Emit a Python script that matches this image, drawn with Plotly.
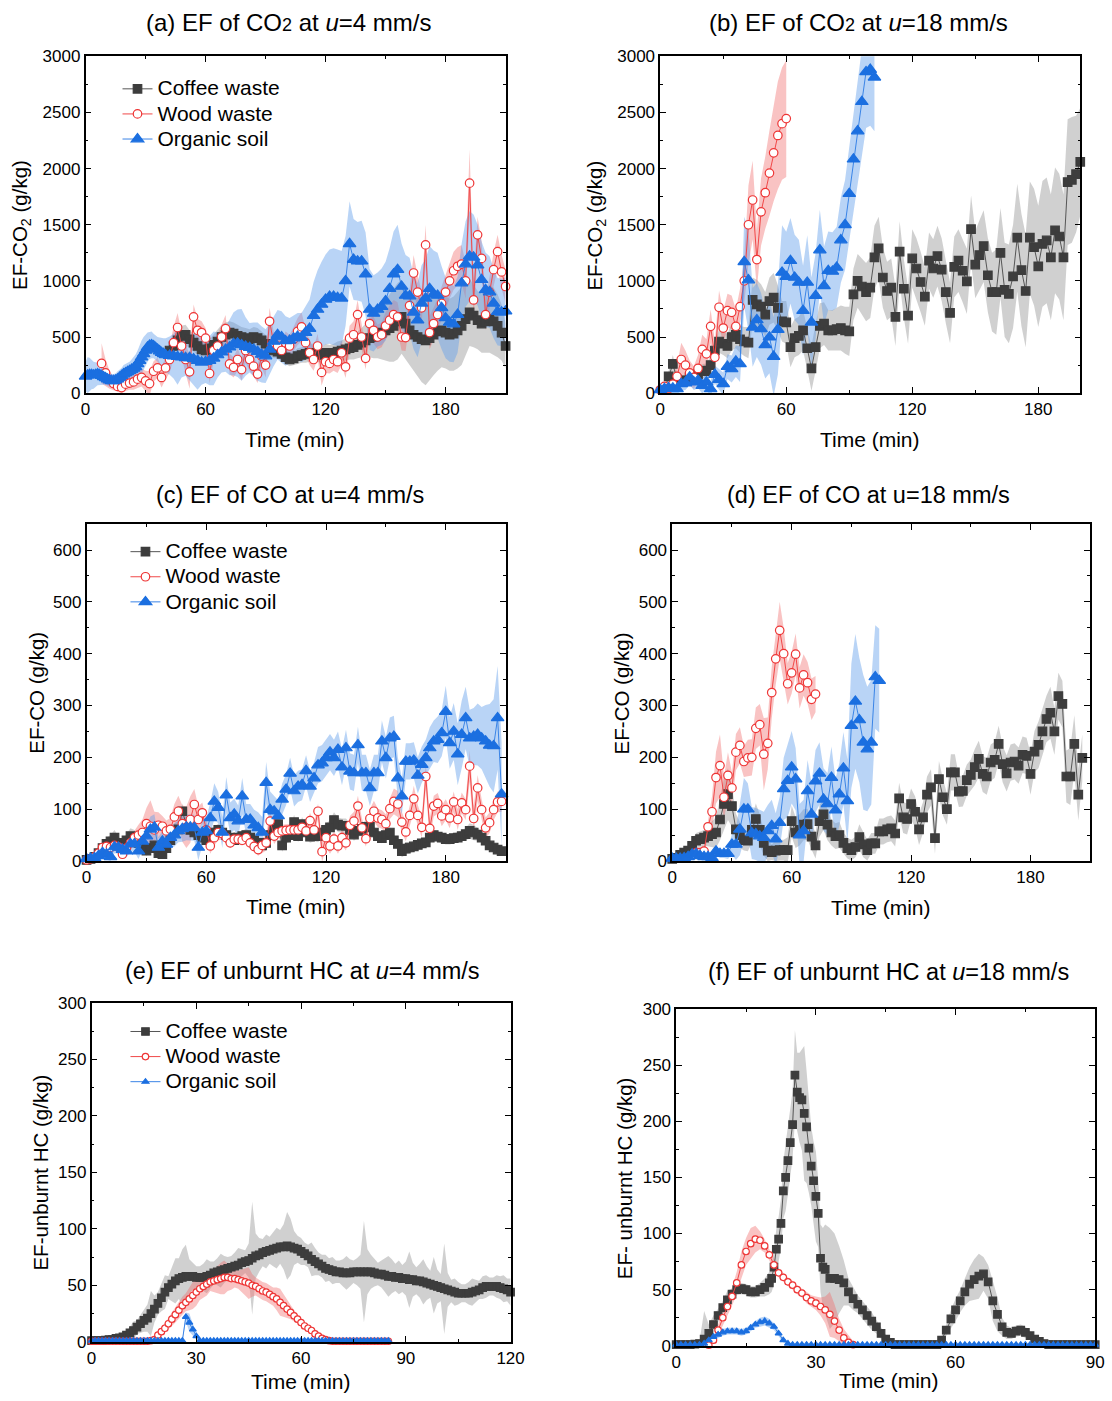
import plotly.graph_objects as go

W, H = 1112, 1401
FONT = "Arial, 'Liberation Sans', sans-serif"
# measured mapping between figure pixels and the captured picture
SX, OX = 0.9852, 4.3
SY, OY = 0.9868, 7.8

# ====================== DATA ======================
# ---- (a) EF-CO2, u = 4 mm/s ----
a_coffee_t = list(range(42, 211, 2))
a_coffee_v = [380, 420, 470, 510, 520, 480, 450, 420, 390, 380,
              400, 430, 460, 500, 520, 540, 530, 510, 500, 490,
              480, 500, 490, 470, 440, 400, 380, 370, 350, 320,
              300, 310, 330, 340, 350, 360, 360, 350, 340, 360,
              350, 360, 370, 380, 390, 400, 410, 430, 450, 470,
              490, 500, 520, 540, 560, 580, 600, 640, 680, 620,
              560, 520, 500, 480, 470, 490, 520, 550, 560, 540,
              520, 530, 560, 600, 660, 720, 690, 650, 620, 640,
              660, 640, 600, 540, 420]
a_coffee_sd = [60, 70, 80, 90, 90, 80, 80, 80, 70, 70,
               80, 90, 100, 110, 110, 100, 100, 100, 90, 90,
               90, 90, 90, 80, 80, 70, 70, 60, 60, 60,
               60, 60, 70, 70, 80, 80, 80, 70, 70, 80,
               80, 80, 90, 90, 100, 100, 110, 120, 130, 150,
               170, 190, 210, 240, 270, 300, 320, 340, 330, 320,
               320, 330, 350, 380, 400, 380, 360, 350, 330, 320,
               320, 330, 340, 350, 330, 300, 280, 260, 260, 280,
               300, 300, 280, 250, 200]

a_wood_t = list(range(8, 211, 2))
a_wood_v = [265, 180, 120, 85, 60, 50, 80, 90, 100, 125,
            140, 110, 85, 195, 225, 140, 225, 300, 450, 585,
            420, 300, 190, 680, 560, 540, 490, 175, 380, 420,
            500, 575, 260, 230, 300, 210, 380, 300, 240, 170,
            330, 250, 640, 450, 420, 380, 450, 420, 480, 550,
            590, 450, 360, 300, 420, 185, 280, 265, 300, 280,
            360, 235, 490, 520, 700, 500, 310, 620, 560, 500,
            520, 600, 650, 700, 680, 500, 495, 780, 1070, 900,
            760, 1320, 540, 620, 700, 800, 900, 1000, 1090, 1130,
            1150, 1000, 1870, 830, 1410, 1200, 700, 900, 1100, 1260,
            1080, 950]
a_wood_sd = [180, 120, 80, 60, 50, 50, 60, 60, 70, 80,
             80, 90, 110, 90, 90, 90, 100, 120, 140, 130,
             120, 130, 150, 110, 100, 100, 90, 90, 100, 100,
             100, 120, 90, 90, 100, 100, 110, 100, 90, 80,
             100, 110, 120, 100, 90, 90, 100, 100, 110, 120,
             130, 120, 110, 100, 110, 120, 100, 90, 100, 100,
             110, 100, 110, 120, 130, 110, 100, 130, 120, 110,
             110, 120, 130, 130, 130, 120, 120, 140, 160, 150,
             150, 180, 150, 140, 140, 150, 160, 160, 170, 170,
             170, 160, 300, 180, 160, 150, 140, 140, 150, 150,
             150, 150]

a_soil_t = list(range(0, 41)) + list(range(42, 211, 2))
a_soil_v = [150, 160, 165, 165, 160, 165, 170, 165, 155, 145,
            135, 125, 115, 110, 110, 115, 125, 140, 155, 170,
            180, 190, 200, 210, 220, 235, 260, 290, 320, 350,
            380, 410, 425, 430, 420, 405, 390, 375, 360, 350,
            340,
            335, 330, 325, 320, 315, 315, 305, 290, 275, 280,
            290, 310, 340, 365, 390, 410, 440, 445, 430, 415,
            405, 390, 370, 345, 330, 390, 460, 520, 500, 465,
            470, 490, 505, 495, 540, 575, 690, 745, 790, 835,
            860, 860, 850, 845, 1000, 1330, 1190, 1175, 1175, 1060,
            745, 710, 745, 770, 820, 930, 1060, 1100, 950, 870,
            865, 720, 650, 800, 845, 930, 880, 870, 760, 670,
            630, 615, 700, 980, 1150, 1220, 1210, 1140, 1010, 920,
            900, 800, 725, 720, 730]
a_soil_sd = [130, 160, 150, 130, 120, 110, 100, 90, 80, 70,
             60, 60, 60, 60, 60, 60, 70, 70, 70, 80,
             80, 80, 80, 90, 100, 110, 120, 140, 150, 150,
             140, 130, 120, 120, 110, 110, 110, 120, 130, 140,
             150,
             170, 200, 250, 180, 160, 200, 230, 260, 200, 190,
             220, 240, 200, 180, 200, 250, 280, 300, 320, 260,
             220, 240, 260, 250, 240, 230, 220, 220, 230, 220,
             200, 200, 210, 220, 240, 260, 300, 350, 380, 400,
             420, 430, 430, 420, 400, 380, 360, 350, 360, 370,
             360, 340, 330, 340, 350, 360, 380, 400, 380, 360,
             340, 330, 330, 340, 350, 380, 390, 380, 370, 360,
             350, 340, 340, 350, 380, 400, 380, 360, 340, 330,
             320, 310, 300, 300, 300]

# ---- (b) EF-CO2, u = 18 mm/s ----
b_coffee_t = list(range(2, 201, 2))
b_coffee_v = [30, 150, 260, 120, 110, 115, 140, 130, 170, 200,
              195, 250, 380, 460, 440, 420, 500, 520, 480, 460,
              450, 830, 790, 770, 700, 820, 850, 760, 640, 630,
              410, 490, 510, 560, 400, 220, 410, 600, 620, 560,
              560, 570, 580, 560, 550, 880, 1000, 950, 900, 940,
              1210, 1290, 1030, 910, 940, 680, 1260, 930, 690, 1200,
              1110, 990, 860, 1180, 1110, 1220, 1100, 900, 715, 1125,
              1180, 1090, 995, 1460, 1145, 1230, 1310, 1050, 900, 900,
              1250, 920, 885, 1040, 1385, 1095, 910, 1385, 1300, 1130,
              1330, 1360, 1210, 1450, 1395, 1210, 1880, 1900, 1950, 2060]
b_coffee_sd = [30, 60, 80, 60, 50, 50, 50, 50, 60, 60,
               70, 80, 90, 100, 100, 110, 120, 120, 120, 130,
               140, 200, 220, 200, 200, 210, 220, 200, 180, 190,
               180, 170, 170, 180, 190, 200, 210, 200, 190, 180,
               180, 190, 200, 210, 220, 230, 240, 250, 260, 270,
               280, 280, 270, 260, 260, 260, 270, 260, 250, 260,
               270, 270, 260, 250, 260, 270, 280, 280, 270, 270,
               280, 280, 290, 300, 300, 310, 320, 330, 350, 380,
               400, 420, 440, 460, 480, 500, 500, 500, 520, 540,
               560, 560, 560, 560, 560, 560, 560, 560, 520, 480]

b_wood_t = list(range(0, 61, 2))
b_wood_v = [30, 60, 40, 80, 150, 300, 250, 180, 140, 220,
            390, 350, 595, 320, 765, 580, 735, 720, 595, 770,
            1000, 1500, 1720, 1190, 1615, 1785, 1960, 2140, 2295, 2400,
            2445]
b_wood_sd = [30, 40, 40, 60, 100, 150, 130, 110, 100, 120,
             130, 130, 150, 140, 150, 150, 150, 150, 150, 160,
             200, 350, 350, 260, 300, 320, 380, 430, 480, 500,
             520]

b_soil_t = list(range(0, 103, 2))
b_soil_v = [30, 40, 47, 44, 38, 83, 89, 142, 98, 113,
            68, 98, 38, 166, 120, 83, 237, 216, 284, 260,
            1170, 1007, 586, 652, 572, 430, 498, 326, 566, 1075,
            1037, 1179, 1031, 986, 735, 986, 631, 868, 1274, 956,
            1090, 1084, 1120, 1363, 1499, 1777, 2083, 2334, 2595, 2861,
            2882, 2813]
b_soil_sd = [40, 50, 50, 50, 50, 60, 60, 70, 70, 70,
             70, 70, 70, 80, 90, 100, 110, 120, 140, 160,
             400, 450, 350, 330, 320, 300, 320, 350, 400, 420,
             400, 380, 380, 380, 400, 420, 400, 380, 360, 350,
             350, 350, 360, 380, 400, 420, 440, 460, 480, 500,
             500, 480]

# ---- (c) EF-CO, u = 4 mm/s ----
c_t = list(range(0, 209, 2))
c_coffee_v = [2, 4, 8, 15, 25, 33, 38, 45, 35, 30,
              40, 48, 45, 35, 28, 20, 25, 30, 15, 13,
              25, 40, 58, 61, 96, 70, 60, 55, 50, 45,
              40, 50, 55, 60, 55, 50, 45, 40, 45, 48,
              50, 45, 40, 35, 30, 35, 50, 60, 71, 30,
              45, 50, 75, 48, 71, 55, 47, 50, 48, 55,
              60, 65, 79, 70, 68, 68, 60, 51, 58, 62,
              66, 66, 55, 48, 44, 50, 55, 40, 33, 19,
              24, 26, 28, 31, 34, 36, 45, 50, 47, 45,
              42, 42, 44, 45, 48, 52, 58, 55, 51, 45,
              39, 30, 26, 22, 19]
c_coffee_sd = [2, 3, 5, 8, 10, 12, 12, 15, 12, 10,
               12, 15, 15, 12, 10, 10, 10, 12, 10, 8,
               10, 12, 15, 15, 15, 12, 12, 12, 10, 10,
               10, 12, 12, 12, 12, 10, 10, 10, 10, 10,
               12, 12, 10, 10, 10, 10, 12, 14, 15, 12,
               12, 12, 14, 12, 14, 12, 12, 12, 12, 12,
               12, 14, 15, 14, 14, 14, 12, 12, 12, 12,
               12, 12, 12, 10, 10, 10, 10, 10, 10, 12,
               12, 10, 10, 10, 10, 10, 10, 10, 10, 10,
               10, 10, 10, 10, 10, 12, 15, 15, 12, 10,
               10, 10, 8, 8, 6]
c_wood_v = [2, 4, 8, 15, 26, 28, 26, 30, 27, 13,
            25, 35, 45, 50, 55, 72, 67, 60, 69, 67,
            58, 61, 85, 96, 72, 65, 80, 109, 80, 93,
            60, 29, 45, 55, 53, 45, 35, 42, 42, 40,
            45, 35, 28, 22, 30, 35, 77, 48, 55, 58,
            59, 60, 60, 60, 65, 58, 78, 60, 96, 18,
            45, 29, 42, 29, 45, 35, 69, 77, 106, 64,
            43, 82, 96, 83, 80, 72, 101, 115, 110, 75,
            56, 88, 120, 88, 65, 163, 63, 106, 111, 87,
            99, 83, 114, 80, 112, 99, 183, 82, 141, 99,
            64, 74, 99, 114, 115]
c_wood_sd = [2, 3, 5, 8, 10, 10, 10, 10, 10, 8,
             10, 12, 15, 20, 25, 30, 50, 35, 25, 20,
             20, 22, 25, 30, 35, 40, 45, 30, 25, 20,
             20, 15, 15, 15, 12, 12, 10, 10, 10, 10,
             10, 10, 10, 12, 15, 15, 20, 15, 12, 12,
             12, 12, 12, 12, 12, 12, 15, 12, 15, 20,
             20, 15, 15, 15, 15, 15, 18, 18, 20, 18,
             15, 18, 20, 18, 18, 18, 20, 25, 25, 20,
             18, 20, 25, 20, 20, 25, 20, 20, 20, 20,
             20, 20, 20, 20, 20, 20, 30, 25, 25, 20,
             20, 20, 20, 20, 20]
c_soil_v = [4, 5, 6, 10, 16, 13, 8, 27, 26, 22,
            19, 33, 33, 19, 38, 48, 61, 65, 26, 38,
            32, 45, 50, 58, 62, 65, 65, 64, 26, 55,
            58, 83, 115, 103, 55, 127, 83, 90, 77, 125,
            80, 80, 69, 64, 55, 151, 99, 96, 87, 119,
            138, 169, 135, 144, 147, 174, 144, 160, 185, 189,
            199, 210, 199, 215, 181, 218, 173, 170, 224, 170,
            170, 141, 170, 170, 231, 199, 237, 240, 160, 125,
            192, 192, 194, 165, 186, 199, 218, 231, 234, 247,
            288, 228, 250, 206, 244, 276, 237, 240, 244, 237,
            231, 223, 222, 276, 129]
c_soil_sd = [4, 5, 6, 8, 10, 10, 8, 12, 12, 12,
             12, 15, 15, 15, 18, 20, 25, 25, 20, 20,
             20, 20, 22, 22, 25, 25, 25, 25, 25, 25,
             25, 30, 35, 30, 30, 35, 30, 30, 30, 35,
             30, 30, 30, 30, 30, 40, 35, 30, 30, 30,
             30, 30, 30, 30, 30, 30, 30, 30, 35, 35,
             35, 35, 35, 35, 35, 35, 35, 35, 35, 35,
             35, 35, 35, 35, 40, 40, 40, 40, 40, 35,
             35, 35, 35, 35, 35, 35, 40, 40, 45, 45,
             50, 50, 55, 60, 65, 60, 55, 55, 60, 60,
             70, 80, 90, 100, 100]

# ---- (d) EF-CO, u = 18 mm/s ----
d_coffee_t = list(range(0, 207, 2))
d_coffee_v = [4, 6, 12, 16, 20, 29, 39, 42, 45, 48,
              52, 55, 80, 110, 129, 106, 61, 50, 40, 39,
              60, 81, 60, 35, 20, 17, 20, 21, 21, 21,
              77, 55, 60, 70, 71, 47, 30, 77, 90, 70,
              55, 48, 50, 35, 25, 21, 27, 46, 32, 21,
              34, 34, 57, 57, 61, 63, 53, 121, 84, 81,
              110, 95, 61, 84, 128, 142, 44, 158, 123, 100,
              171, 171, 134, 135, 156, 166, 181, 197, 168, 163,
              190, 195, 226, 187, 169, 190, 192, 184, 205, 203,
              168, 211, 224, 250, 274, 286, 250, 318, 303, 163,
              163, 226, 128, 199]
d_coffee_sd = [3, 4, 6, 8, 10, 12, 15, 15, 15, 20,
               25, 30, 40, 50, 50, 40, 30, 25, 20, 20,
               25, 30, 30, 25, 20, 15, 20, 20, 20, 25,
               30, 30, 30, 30, 30, 25, 25, 30, 30, 30,
               25, 25, 25, 20, 20, 20, 20, 25, 25, 20,
               20, 20, 25, 25, 25, 25, 25, 30, 30, 30,
               30, 30, 30, 30, 35, 35, 30, 35, 35, 30,
               35, 35, 30, 30, 30, 30, 35, 35, 35, 35,
               35, 35, 35, 35, 35, 35, 35, 35, 35, 35,
               40, 40, 45, 45, 45, 50, 45, 45, 45, 50,
               55, 55, 50, 45]

d_wood_t = list(range(12, 73, 2))
d_wood_v = [16, 16, 19, 66, 95, 161, 184, 123, 165, 141,
            210, 223, 192, 199, 200, 256, 263, 206, 227, 325,
            390, 445, 400, 342, 363, 399, 334, 359, 344, 312,
            322]
d_wood_sd = [10, 10, 12, 15, 30, 50, 60, 40, 45, 30,
             35, 35, 30, 35, 35, 40, 40, 70, 50, 50,
             50, 55, 50, 40, 40, 40, 40, 40, 40, 40,
             35]

d_soil_t = list(range(0, 105, 2))
d_soil_v = [5, 5, 5, 6, 8, 13, 14, 10, 8, 8,
            6, 19, 14, 14, 14, 32, 32, 61, 100, 100,
            54, 52, 48, 45, 58, 68, 42, 74, 139, 155,
            181, 158, 50, 58, 135, 90, 154, 169, 119, 110,
            161, 98, 129, 179, 116, 261, 308, 272, 229, 216,
            229, 355, 348]
d_soil_sd = [4, 4, 4, 5, 5, 6, 6, 6, 5, 5,
             5, 8, 8, 8, 10, 20, 30, 50, 60, 50,
             50, 50, 50, 50, 50, 50, 50, 50, 60, 70,
             70, 60, 60, 60, 60, 60, 60, 60, 60, 60,
             60, 60, 60, 70, 80, 120, 130, 120, 130, 120,
             120, 100, 100]

# ---- (e) EF-unburnt HC, u = 4 mm/s ----
e_coffee_t = list(range(0, 121))
e_coffee_v = [1, 1, 1, 1, 1.5, 2, 2, 3, 3.5, 4.5,
              6, 8, 10, 13, 16, 19, 21, 25, 29, 34,
              39, 44, 48, 51, 54, 56, 57, 58, 58, 58,
              57, 57, 57, 58, 59, 61, 62, 63, 64, 65,
              66, 67, 68, 70, 71, 72, 74, 76, 77, 79,
              80, 81, 82, 83, 84, 84, 85, 84, 83, 82,
              80, 78, 76, 73, 71, 69, 67, 65, 64, 63,
              62, 62, 61, 61, 61, 62, 62, 62, 62, 62,
              62, 61, 60, 60, 59, 58, 58, 57, 57, 56,
              56, 55, 55, 54, 54, 53, 52, 51, 50, 49,
              48, 47, 46, 45, 44, 43, 43, 43, 43, 44,
              45, 46, 48, 49, 49, 49, 49, 48, 47, 46,
              44]
e_coffee_sd = [1, 1, 1, 1, 1, 1, 1, 1, 2, 2,
               3, 5, 8, 6, 8, 10, 12, 20, 12, 10,
               12, 15, 10, 15, 20, 18, 25, 28, 15, 12,
               10, 10, 12, 15, 12, 10, 12, 15, 12, 10,
               10, 12, 15, 12, 10, 15, 50, 20, 15, 12,
               15, 12, 15, 18, 15, 20, 30, 25, 15, 12,
               12, 10, 10, 15, 12, 10, 10, 12, 10, 12,
               10, 10, 12, 15, 12, 10, 12, 15, 45, 20,
               15, 12, 10, 12, 15, 18, 15, 12, 15, 12,
               15, 25, 15, 12, 15, 20, 15, 12, 25, 15,
               12, 40, 15, 10, 12, 10, 8, 8, 10, 12,
               10, 8, 10, 10, 8, 8, 10, 10, 12, 10,
               12]

e_wood_t = list(range(0, 86))
e_wood_v = [0.5, 0.5, 0.5, 0.5, 0.5, 0.5, 0.5, 0.5, 0.5, 0.5,
            0.5, 0.5, 0.5, 0.5, 0.5, 0.5, 0.5, 1, 2, 6,
            9, 12, 16, 20, 24, 28, 32, 35, 38, 41,
            44, 47, 49, 51, 53, 54, 55, 56, 57, 57,
            56, 56, 55, 54, 53, 52, 50, 49, 47, 45,
            44, 42, 40, 38, 35, 32, 29, 26, 23, 20,
            17, 14, 12, 10, 7, 5, 3, 2, 1, 0.5,
            0.5, 0.5, 0.5, 0.5, 0.5, 0.5, 0.5, 0.5, 0.5, 0.5,
            0.5, 0.5, 0.5, 0.5, 0.5, 0.5]
e_wood_sd = [0, 0, 0, 0, 0, 0, 0, 0, 0, 0,
             0, 0, 0, 0, 0, 0, 0, 1, 1, 2,
             3, 4, 5, 6, 7, 8, 8, 8, 10, 12,
             12, 10, 10, 10, 8, 10, 12, 14, 15, 12,
             10, 8, 8, 10, 12, 14, 10, 8, 8, 8,
             8, 8, 8, 10, 12, 10, 8, 6, 5, 4,
             3, 3, 2, 2, 2, 1, 1, 1, 0, 0,
             0, 0, 0, 0, 0, 0, 0, 0, 0, 0,
             0, 0, 0, 0, 0, 0]

e_soil_t = list(range(0, 86))
e_soil_v = [1, 1, 1, 1, 1, 1, 1, 1, 1, 1,
            1, 1, 1, 1, 1, 1, 1, 1, 1, 1,
            1, 1, 1, 1, 1, 1, 1, 22, 17, 11,
            5, 1, 1, 1, 1, 1, 1, 1, 1, 1,
            1, 1, 1, 1, 1, 1, 1, 1, 1, 1,
            1, 1, 1, 1, 1, 1, 1, 1, 1, 1,
            1, 1, 1, 1, 1, 1, 1, 1, 1, 1,
            1, 1, 1, 1, 1, 1, 1, 1, 1, 1,
            1, 1, 1, 1, 1, 1]
e_soil_sd = [0.5, 0.5, 0.5, 0.5, 0.5, 0.5, 0.5, 0.5, 0.5, 0.5,
             0.5, 0.5, 0.5, 0.5, 0.5, 0.5, 0.5, 0.5, 0.5, 0.5,
             0.5, 0.5, 0.5, 0.5, 0.5, 0.5, 1, 4, 8, 5,
             3, 0.5, 0.5, 0.5, 0.5, 0.5, 0.5, 0.5, 0.5, 0.5,
             0.5, 0.5, 0.5, 0.5, 0.5, 0.5, 0.5, 0.5, 0.5, 0.5,
             0.5, 0.5, 0.5, 0.5, 0.5, 0.5, 0.5, 0.5, 0.5, 0.5,
             0.5, 0.5, 0.5, 0.5, 0.5, 0.5, 0.5, 0.5, 0.5, 0.5,
             0.5, 0.5, 0.5, 0.5, 0.5, 0.5, 0.5, 0.5, 0.5, 0.5,
             0.5, 0.5, 0.5, 0.5, 0.5, 0.5]

# ---- (f) EF-unburnt HC, u = 18 mm/s ----
f_coffee_t = (list(range(0, 20)) +
              [20, 20.5, 21, 21.5, 22, 22.5, 23, 23.5, 24, 24.5, 25, 25.5, 26,
               26.5, 27, 27.5, 28, 28.5, 29, 29.5, 30, 30.5, 31, 31.5, 32] +
              list(range(33, 91)))
f_coffee_v = [1, 1, 1, 1, 1.5, 2, 6, 11, 19, 27,
              34, 41, 46, 50, 51, 50, 48, 48, 50, 52,
              56, 60, 70, 86, 95, 109, 138, 150, 165, 181,
              197, 241, 226, 221, 219, 207, 195, 176, 160, 147,
              133, 118, 78, 70, 68,
              60, 60, 59, 56, 48, 42, 37, 32, 27, 22,
              17, 11, 6, 3, 1, 1, 1, 1, 1, 1,
              1, 1, 1, 1, 5, 14, 24, 32, 40, 48,
              55, 59, 62, 64, 57, 40, 28, 17, 12, 11,
              13, 14, 12, 9, 6, 4, 2, 1, 1, 1,
              1, 1, 1, 1, 1, 1, 1, 1]
f_coffee_sd = [1, 1, 1, 1, 1, 2, 25, 8, 8, 6,
               6, 8, 5, 5, 5, 5, 5, 5, 6, 8,
               10, 12, 15, 18, 20, 22, 25, 30, 30, 28,
               30, 40, 35, 40, 45, 60, 50, 40, 35, 35,
               40, 30, 30, 35, 40,
               45, 40, 30, 20, 12, 10, 8, 8, 8, 8,
               6, 5, 4, 2, 1, 1, 1, 1, 1, 1,
               1, 1, 1, 1, 3, 5, 8, 10, 10, 12,
               15, 18, 20, 15, 15, 18, 15, 8, 6, 5,
               5, 5, 5, 4, 3, 2, 1, 1, 1, 1,
               1, 1, 1, 1, 1, 1, 1, 1]

f_wood_t = list(range(7, 39))
f_wood_v = [0.5, 5, 14, 25, 35, 44, 56, 72, 84, 91,
            95, 94, 89, 81, 72, 65, 61, 57, 54, 50,
            47, 43, 40, 38, 35, 32, 28, 22, 14, 7,
            3, 1]
f_wood_sd = [0.5, 3, 5, 6, 8, 8, 10, 12, 12, 14,
             12, 8, 6, 5, 5, 4, 4, 4, 4, 4,
             4, 5, 5, 6, 8, 12, 20, 15, 10, 8,
             6, 3]

f_soil_t = list(range(0, 91))
f_soil_v = [1, 1, 1, 1, 1, 1, 2, 5, 8, 10,
            12, 13, 13, 13, 12, 13, 16, 19, 21, 22,
            20, 17, 11, 5, 2, 1, 1, 1, 1, 1,
            1, 1, 1, 1, 1, 1, 1, 1, 1, 1,
            1, 1, 1, 1, 1, 1, 1, 1, 1, 1,
            1, 1, 1, 1, 1, 1, 1, 1, 1, 1,
            1, 1, 1, 1, 1, 1, 1, 1, 1, 1,
            1, 1, 1, 1, 1, 1, 1, 1, 1, 1,
            1, 1, 1, 1, 1, 1, 1, 1, 1, 1,
            1]
f_soil_sd = [0.5, 0.5, 0.5, 0.5, 0.5, 0.5, 1, 2, 2, 3,
             3, 3, 3, 3, 3, 3, 3, 3, 4, 4,
             4, 3, 3, 2, 1, 0.5, 0.5, 0.5, 0.5, 0.5,
             0.5, 0.5, 0.5, 0.5, 0.5, 0.5, 0.5, 0.5, 0.5, 0.5,
             0.5, 0.5, 0.5, 0.5, 0.5, 0.5, 0.5, 0.5, 0.5, 0.5,
             0.5, 0.5, 0.5, 0.5, 0.5, 0.5, 0.5, 0.5, 0.5, 0.5,
             0.5, 0.5, 0.5, 0.5, 0.5, 0.5, 0.5, 0.5, 0.5, 0.5,
             0.5, 0.5, 0.5, 0.5, 0.5, 0.5, 0.5, 0.5, 0.5, 0.5,
             0.5, 0.5, 0.5, 0.5, 0.5, 0.5, 0.5, 0.5, 0.5, 0.5,
             0.5]

series_names = {"coffee": "Coffee waste", "wood": "Wood waste", "soil": "Organic soil"}

# ====================== STYLE ======================
STY = {
    "coffee": dict(symbol="square", fill="#3d3d3d", edge="#3d3d3d", line="#555555",
                   band="rgba(150,150,150,0.45)"),
    "wood": dict(symbol="circle", fill="#ffffff", edge="#ee3535", line="#f04848",
                 band="rgba(240,105,105,0.40)"),
    "soil": dict(symbol="triangle-up", fill="#1b6fe0", edge="#1b6fe0", line="#3a84e6",
                 band="rgba(100,160,235,0.45)"),
}

def px(x):
    return (x / SX - OX) / W

def py(y):
    return 1 - (y / SY - OY) / H

# panel boxes in target-picture pixels: (left, right, top, bottom)
PANELS = [
    dict(key="a", box=(85, 506, 55, 392), xr=[0, 210], yr=[0, 3000], xd=60, yd=500,
         data=[("coffee", a_coffee_t, a_coffee_v, a_coffee_sd, 8.5),
               ("wood", a_wood_t, a_wood_v, a_wood_sd, 8.5),
               ("soil", a_soil_t, a_soil_v, a_soil_sd, 11)],
         legend="legend"),
    dict(key="b", box=(661, 1082, 55, 392), xr=[0, 200], yr=[0, 3000], xd=60, yd=500,
         data=[("coffee", b_coffee_t, b_coffee_v, b_coffee_sd, 8.5),
               ("wood", b_wood_t, b_wood_v, b_wood_sd, 8.5),
               ("soil", b_soil_t, b_soil_v, b_soil_sd, 11)],
         legend=None),
    dict(key="c", box=(86, 506, 523, 860), xr=[0, 210], yr=[0, 650], xd=60, yd=100,
         data=[("coffee", c_t, c_coffee_v, c_coffee_sd, 8.5),
               ("wood", c_t, c_wood_v, c_wood_sd, 8.5),
               ("soil", c_t, c_soil_v, c_soil_sd, 11)],
         legend="legend2"),
    dict(key="d", box=(673, 1092, 523, 860), xr=[0, 210], yr=[0, 650], xd=60, yd=100,
         data=[("coffee", d_coffee_t, d_coffee_v, d_coffee_sd, 8.5),
               ("wood", d_wood_t, d_wood_v, d_wood_sd, 8.5),
               ("soil", d_soil_t, d_soil_v, d_soil_sd, 11)],
         legend=None),
    dict(key="e", box=(91, 511, 1002, 1341), xr=[0, 120], yr=[0, 300], xd=30, yd=50,
         data=[("coffee", e_coffee_t, e_coffee_v, e_coffee_sd, 7.5),
               ("wood", e_wood_t, e_wood_v, e_wood_sd, 6.5),
               ("soil", e_soil_t, e_soil_v, e_soil_sd, 6)],
         legend="legend3"),
    dict(key="f", box=(677, 1097, 1008, 1345), xr=[0, 90], yr=[0, 300], xd=30, yd=50,
         data=[("coffee", f_coffee_t, f_coffee_v, f_coffee_sd, 7.5),
               ("wood", f_wood_t, f_wood_v, f_wood_sd, 6.5),
               ("soil", f_soil_t, f_soil_v, f_soil_sd, 6)],
         legend=None),
]

for p in PANELS:
    for (k, t, v, sd, _) in p["data"]:
        assert len(t) == len(v) == len(sd), (p["key"], k, len(t), len(v), len(sd))

fig = go.Figure()
layout = {}
for i, p in enumerate(PANELS, start=1):
    xa = "x" if i == 1 else f"x{i}"
    ya = "y" if i == 1 else f"y{i}"
    L, R, T, B = p["box"]
    # uncertainty bands first
    for (k, t, v, sd, size) in p["data"]:
        up = [a + b for a, b in zip(v, sd)]
        lo = [a - b for a, b in zip(v, sd)]
        fig.add_trace(go.Scatter(x=list(t) + list(t)[::-1], y=up + lo[::-1],
                                 fill="toself", fillcolor=STY[k]["band"], mode="lines",
                                 line=dict(width=0), hoverinfo="skip", showlegend=False,
                                 xaxis=xa, yaxis=ya))
    for (k, t, v, sd, size) in p["data"]:
        s = STY[k]
        kw = dict(showlegend=False)
        if p["legend"]:
            kw = dict(showlegend=True, legend=p["legend"])
        fig.add_trace(go.Scatter(x=t, y=v, mode="lines+markers",
                                 name=f"<span style='font-size:21px'>{series_names[k]}</span>",
                                 line=dict(color=s["line"], width=1),
                                 marker=dict(symbol=s["symbol"], size=size, color=s["fill"],
                                             line=dict(color=s["edge"], width=1.2)),
                                 cliponaxis=False, xaxis=xa, yaxis=ya, **kw))
    xkey = "xaxis" if i == 1 else f"xaxis{i}"
    ykey = "yaxis" if i == 1 else f"yaxis{i}"
    common = dict(showline=True, linecolor="black", linewidth=1.5, mirror="allticks",
                  ticks="inside", ticklen=6, tickwidth=1.2, tickcolor="black",
                  showgrid=False, zeroline=False,
                  tickfont=dict(family=FONT, size=17, color="black"))
    layout[xkey] = dict(common, domain=[px(L), px(R)], range=p["xr"], anchor=ya,
                        tick0=0, dtick=p["xd"],
                        minor=dict(ticks="inside", ticklen=3, tickcolor="black",
                                   dtick=p["xd"] / 2, tick0=0))
    layout[ykey] = dict(common, domain=[py(B), py(T)], range=p["yr"], anchor=xa,
                        tick0=0, dtick=p["yd"],
                        minor=dict(ticks="inside", ticklen=3, tickcolor="black",
                                   dtick=p["yd"] / 2, tick0=0))

# titles and axis labels as annotations (target-picture positions)
def ann(text, x, y, size, angle=0):
    return dict(text=text, x=px(x), y=py(y), xref="paper", yref="paper",
                xanchor="center", yanchor="middle", showarrow=False, textangle=angle,
                font=dict(family=FONT, size=size, color="black"))

sub2 = "<span style='font-size:18px'>2</span>"
annotations = [
    ann(f"(a) EF of CO{sub2} at <i>u</i>=4 mm/s", 288, 21, 24),
    ann(f"(b) EF of CO{sub2} at <i>u</i>=18 mm/s", 860, 21, 24),
    ann("(c) EF of CO at u=4 mm/s", 290, 494, 23.5),
    ann("(d) EF of CO at u=18 mm/s", 870, 494, 23.5),
    ann("(e) EF of unburnt HC at <i>u</i>=4 mm/s", 302, 970, 23.5),
    ann("(f) EF of unburnt HC at <i>u</i>=18 mm/s", 890, 971, 23.5),
    ann("Time (min)", 295, 438, 21), ann("Time (min)", 871, 438, 21),
    ann("Time (min)", 296, 906, 21), ann("Time (min)", 882, 907, 21),
    ann("Time (min)", 301, 1381, 21), ann("Time (min)", 890, 1380, 21),
    ann("EF-CO<sub>2</sub> (g/kg)", 20, 224, 20.5, -90),
    ann("EF-CO<sub>2</sub> (g/kg)", 597, 224, 20.5, -90),
    ann("EF-CO (g/kg)", 35, 692, 20.5, -90),
    ann("EF-CO (g/kg)", 622, 692, 20.5, -90),
    ann("EF-unburnt HC (g/kg)", 40, 1172, 20.5, -90),
    ann("EF- unburnt HC (g/kg)", 626, 1177, 20.5, -90),
]

def leg(xpx, ypx):
    return dict(x=px(xpx), y=py(ypx), xanchor="left", yanchor="top",
                bgcolor="rgba(0,0,0,0)", borderwidth=0, tracegroupgap=0,
                font=dict(family=FONT, size=17, color="black"), itemsizing="trace")

fig.update_layout(
    width=W, height=H, margin=dict(l=0, r=0, t=0, b=0, pad=0),
    paper_bgcolor="white", plot_bgcolor="white",
    font=dict(family=FONT, size=17, color="black"),
    annotations=annotations,
    legend=leg(117, 70), legend2=leg(125, 533), legend3=leg(125, 1013),
    **layout,
)

fig.write_html("out.html")
